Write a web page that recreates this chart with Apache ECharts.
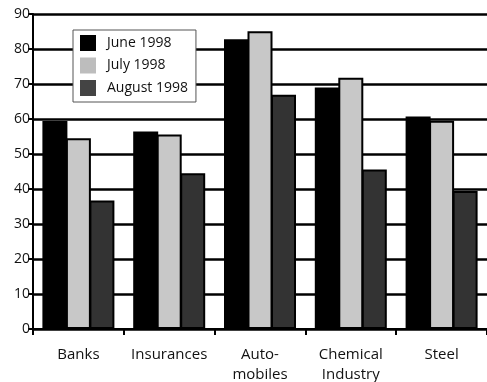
<!DOCTYPE html>
<html>
<head>
<meta charset="utf-8">
<script src="https://cdn.jsdelivr.net/npm/echarts@6/dist/echarts.min.js"></script>
<style>
  html, body { margin: 0; padding: 0; background: #fff; }
  #chart { width: 487px; height: 382px; }
</style>
</head>
<body>
<div id="chart"></div>
<script>
// Industry sectors and monthly index values
const categories = ['Banks', 'Insurances', 'Auto-\nmobiles', 'Chemical\nIndustry', 'Steel'];
const seriesNames = ['June 1998', 'July 1998', 'August 1998'];
const june = [59.4, 56.4, 82.8, 69.0, 60.7];
const july = [54.5, 55.6, 85.1, 71.8, 59.5];
const august = [36.7, 44.5, 66.9, 45.6, 39.4];
const yTicks = [0, 10, 20, 30, 40, 50, 60, 70, 80, 90];

const fills = ['#000000', '#c8c8c8', '#333333'];
const legendFills = ['#000000', '#bdbdbd', '#444444'];
const font = '"Open Sans", "Noto Sans", sans-serif';

const chart = echarts.init(document.getElementById('chart'), null, { renderer: 'canvas' });

const values = [june, july, august];
const series = values.map((data, i) => ({
  name: seriesNames[i],
  type: 'bar',
  data: data,
  barWidth: 25,
  barGap: '-6%',
  itemStyle: { color: fills[i], borderColor: '#000', borderWidth: 2 }
}));

chart.setOption({
  animation: false,
  backgroundColor: '#fff',
  textStyle: { fontFamily: font },
  grid: { left: 33, right: 0, top: 14, bottom: 53, containLabel: false, outerBoundsMode: 'none' },
  legend: {
    orient: 'vertical',
    left: 73,
    top: 30,
    backgroundColor: '#fff',
    borderColor: '#555',
    borderWidth: 1,
    borderRadius: 0,
    padding: [5, 8, 6, 7],
    itemWidth: 16,
    itemHeight: 16,
    itemGap: 6.5,
    icon: 'rect',
    textStyle: { fontFamily: font, fontSize: 14, color: '#111', padding: [0, 0, 0, 6] },
    data: seriesNames.map((n, i) => ({ name: n, itemStyle: { color: legendFills[i], borderWidth: 0 } }))
  },
  xAxis: {
    type: 'category',
    data: categories,
    boundaryGap: true,
    axisLine: { lineStyle: { color: '#000', width: 2 } },
    axisTick: { show: true, length: 6, lineStyle: { color: '#000', width: 2 } },
    axisLabel: { color: '#111', fontSize: 15, fontFamily: font, margin: 16, lineHeight: 20, interval: 0 },
    splitLine: { show: false }
  },
  yAxis: {
    type: 'value',
    min: yTicks[0],
    max: yTicks[yTicks.length - 1],
    interval: 10,
    axisLine: { show: true, lineStyle: { color: '#000', width: 2 } },
    axisTick: { show: true, length: 5, lineStyle: { color: '#000', width: 2 } },
    axisLabel: { color: '#111', fontSize: 14, fontFamily: font, margin: 3 },
    splitLine: { show: true, lineStyle: { color: '#000', width: 2.5 } }
  },
  series: series
});
</script>
</body>
</html>
